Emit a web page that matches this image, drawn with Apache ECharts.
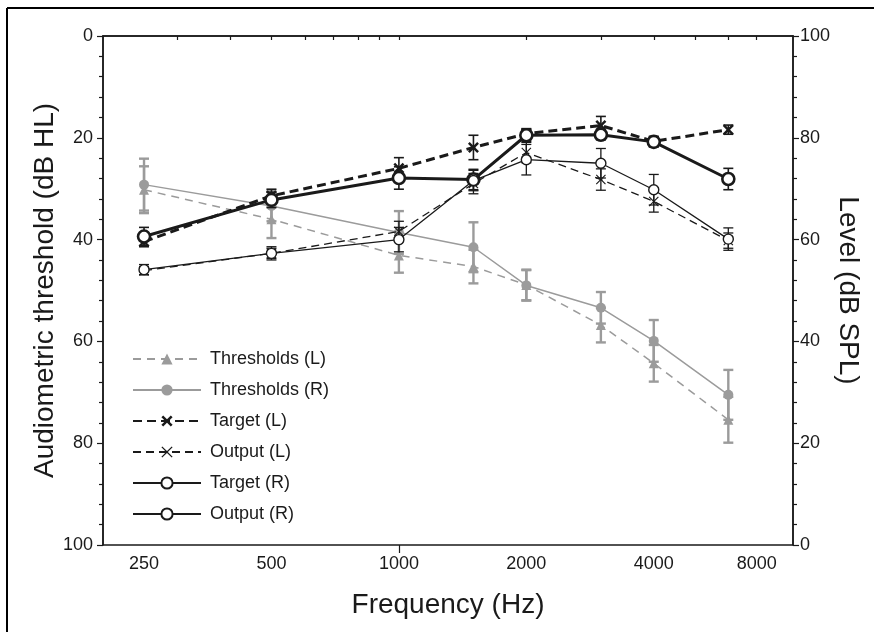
<!DOCTYPE html>
<html><head><meta charset="utf-8">
<script src="https://cdn.jsdelivr.net/npm/echarts@6/dist/echarts.min.js"></script>
<style>html,body{margin:0;padding:0;background:#fff}#c{width:874px;height:632px}</style>
</head><body><div id="c"></div>
<script>
// ---- data ----
const frequencies = [250, 500, 1000, 1500, 2000, 3000, 4000, 6000];
const thresholdsL = [30.2, 36.0, 43.1, 45.3, 48.9, 56.8, 64.3, 75.4];
const thresholdsLErr = [4.6, 3.7, 3.4, 3.3, 3.0, 3.4, 3.6, 4.5];
const thresholdsR = [29.2, 33.4, 38.6, 41.5, 49.0, 53.4, 59.9, 70.5];
const thresholdsRErr = [5.1, 3.0, 4.2, 4.9, 3.0, 3.1, 4.1, 4.9];
const targetL = [59.6, 68.6, 74.0, 78.1, 80.8, 82.4, 79.3, 81.6];
const targetLErr = [1.0, 1.3, 2.1, 2.4, 1.0, 1.8, 1.0, 0.9];
const outputL = [53.9, 57.3, 61.6, 71.0, 77.1, 71.8, 67.5, 59.8];
const outputLErr = [0.8, 1.0, 2.0, 2.0, 2.0, 2.1, 2.1, 1.5];
const targetR = [60.6, 67.8, 72.1, 71.8, 80.5, 80.6, 79.2, 71.9];
const targetRErr = [1.8, 1.5, 2.2, 2.0, 1.2, 1.0, 1.0, 2.1];
const outputR = [54.1, 57.3, 60.0, 71.6, 75.7, 75.0, 69.8, 60.1];
const outputRErr = [1.0, 1.3, 2.4, 2.0, 3.0, 2.9, 3.0, 2.2];
const xTickFreqs = [300, 400, 500, 600, 700, 800, 900, 1000, 2000, 3000, 4000, 5000, 6000, 7000];
const xLongTickFreqs = [1000];
const xLabelFreqs = [250, 500, 1000, 2000, 4000, 7000];
const xLabelTexts = ['250', '500', '1000', '2000', '4000', '8000'];
const xMinFreq = 200, xMaxFreq = 8530;
const seriesNames = ['Thresholds (L)', 'Thresholds (R)', 'Target (L)', 'Output (L)', 'Target (R)', 'Output (R)'];

// ---- helpers ----
const FONT = '"Liberation Sans", Arial, Helvetica, sans-serif';
const INK = '#1a1a1a';
const GRAY = '#9b9b9b';
const lg = f => Math.log2(f);
const pts = v => frequencies.map((f, i) => [lg(f), v[i]]);
const errs = (v, e) => frequencies.map((f, i) => [lg(f), v[i], e[i]]);
const X_THICK = 'path://M0,1.6L1.6,0L5,3.4L8.4,0L10,1.6L6.6,5L10,8.4L8.4,10L5,6.6L1.6,10L0,8.4L3.4,5Z';
const X_THIN = 'path://M0,0.8L0.8,0L5,4.2L9.2,0L10,0.8L5.8,5L10,9.2L9.2,10L5,5.8L0.8,10L0,9.2L4.2,5Z';

function errorBarSeries(data, yAxisIndex, color, width, cap, z) {
  return {
    type: 'custom', yAxisIndex, z, silent: true,
    dimensions: ['x', 'y', 'e'], encode: { x: 0, y: 1 },
    data,
    renderItem(params, api) {
      const x = api.value(0), y = api.value(1), e = api.value(2);
      const a = api.coord([x, y + e]), b = api.coord([x, y - e]);
      const style = { stroke: color, lineWidth: width, fill: null };
      return { type: 'group', children: [
        { type: 'line', shape: { x1: a[0], y1: a[1], x2: b[0], y2: b[1] }, style },
        { type: 'line', shape: { x1: a[0] - cap, y1: a[1], x2: a[0] + cap, y2: a[1] }, style },
        { type: 'line', shape: { x1: b[0] - cap, y1: b[1], x2: b[0] + cap, y2: b[1] }, style }
      ]};
    }
  };
}

const chart = echarts.init(document.getElementById('c'), null, { renderer: 'canvas' });
const axisLineStyle = { color: INK, width: 1.5 };
chart.setOption({
  animation: false,
  backgroundColor: '#fff',
  textStyle: { fontFamily: FONT, color: INK },
  grid: { left: 103, right: 81, top: 36, bottom: 87, show: true, borderColor: INK, borderWidth: 1.5 },
  legend: {
    orient: 'vertical', left: 127, top: 345, itemWidth: 68, itemHeight: 14, itemGap: 13,
    selectedMode: false, data: seriesNames,
    textStyle: { fontSize: 18, fontFamily: FONT, color: INK, padding: [0, 0, 0, 4] }
  },
  xAxis: [{
    type: 'value', min: lg(xMinFreq), max: lg(xMaxFreq),
    name: 'Frequency (Hz)', nameLocation: 'middle', nameGap: 46,
    nameTextStyle: { fontSize: 28, fontFamily: FONT, color: INK },
    axisLine: { lineStyle: axisLineStyle },
    axisTick: { show: true, length: 4, lineStyle: { color: INK, width: 1.2 }, customValues: xTickFreqs.map(lg) },
    axisLabel: {
      fontSize: 18, color: INK, margin: 10, customValues: xLabelFreqs.map(lg),
      formatter: v => { const i = xLabelFreqs.findIndex(f => Math.abs(lg(f) - v) < 1e-6); return i >= 0 ? xLabelTexts[i] : ''; }
    },
    splitLine: { show: false }
  }, {
    type: 'value', min: lg(xMinFreq), max: lg(xMaxFreq), position: 'bottom',
    axisLine: { show: false },
    axisTick: { show: true, length: 8, lineStyle: { color: INK, width: 1.2 }, customValues: xLongTickFreqs.map(lg) },
    axisLabel: { show: false }, splitLine: { show: false }
  }],
  yAxis: [{
    type: 'value', min: 0, max: 100, interval: 20, inverse: true, position: 'left',
    name: 'Audiometric threshold (dB HL)', nameLocation: 'middle', nameGap: 44, nameMoveOverlap: false,
    nameTextStyle: { fontSize: 28, fontFamily: FONT, color: INK },
    axisLine: { show: true, lineStyle: axisLineStyle },
    axisTick: { show: true, length: 6, lineStyle: { color: INK, width: 1.2 } },
    minorTick: { show: true, splitNumber: 5, length: 4, lineStyle: { color: INK, width: 1.2 } },
    axisLabel: { fontSize: 18, color: INK, margin: 10 },
    splitLine: { show: false }
  }, {
    type: 'value', min: 0, max: 100, interval: 20, position: 'right',
    name: 'Level (dB SPL)', nameLocation: 'middle', nameGap: 41, nameRotate: -90, nameMoveOverlap: false,
    nameTextStyle: { fontSize: 28, fontFamily: FONT, color: INK },
    axisLine: { show: true, lineStyle: axisLineStyle },
    axisTick: { show: true, length: 6, lineStyle: { color: INK, width: 1.2 } },
    minorTick: { show: true, splitNumber: 5, length: 4, lineStyle: { color: INK, width: 1.2 } },
    axisLabel: { fontSize: 18, color: INK, margin: 7 },
    splitLine: { show: false }
  }],
  graphic: [
    { type: 'line', shape: { x1: 7, y1: 8, x2: 874, y2: 8 }, style: { stroke: '#000', lineWidth: 2 } },
    { type: 'line', shape: { x1: 7, y1: 8, x2: 7, y2: 632 }, style: { stroke: '#000', lineWidth: 2 } }
  ],
  series: [
    errorBarSeries(errs(thresholdsL, thresholdsLErr), 0, GRAY, 2.4, 5, 1),
    errorBarSeries(errs(thresholdsR, thresholdsRErr), 0, GRAY, 2.4, 5, 1),
    {
      name: 'Thresholds (L)', type: 'line', yAxisIndex: 0, z: 1, data: pts(thresholdsL),
      symbol: 'triangle', symbolSize: 10,
      lineStyle: { color: GRAY, width: 1.5, type: [8, 6] },
      itemStyle: { color: GRAY }
    },
    {
      name: 'Thresholds (R)', type: 'line', yAxisIndex: 0, z: 1, data: pts(thresholdsR),
      symbol: 'circle', symbolSize: 10,
      lineStyle: { color: GRAY, width: 1.5 },
      itemStyle: { color: GRAY }
    },
    errorBarSeries(errs(targetL, targetLErr), 1, INK, 1.6, 5, 2),
    errorBarSeries(errs(outputL, outputLErr), 1, INK, 1.3, 5, 2),
    errorBarSeries(errs(targetR, targetRErr), 1, INK, 1.6, 5, 2),
    errorBarSeries(errs(outputR, outputRErr), 1, INK, 1.3, 5, 2),
    {
      name: 'Target (L)', type: 'line', yAxisIndex: 1, z: 3, data: pts(targetL),
      symbol: X_THICK, symbolSize: 11,
      lineStyle: { color: INK, width: 3, type: [9, 5] },
      itemStyle: { color: INK }
    },
    {
      name: 'Output (L)', type: 'line', yAxisIndex: 1, z: 3, data: pts(outputL),
      symbol: X_THIN, symbolSize: 10,
      lineStyle: { color: INK, width: 1.3, type: [8, 5] },
      itemStyle: { color: INK }
    },
    {
      name: 'Target (R)', type: 'line', yAxisIndex: 1, z: 4, data: pts(targetR),
      symbol: 'circle', symbolSize: 12,
      lineStyle: { color: INK, width: 3 },
      itemStyle: { color: '#fff', borderColor: INK, borderWidth: 2.6 }
    },
    {
      name: 'Output (R)', type: 'line', yAxisIndex: 1, z: 4, data: pts(outputR),
      symbol: 'circle', symbolSize: 10,
      lineStyle: { color: INK, width: 1.3 },
      itemStyle: { color: '#fff', borderColor: INK, borderWidth: 1.4 }
    }
  ]
});
</script>
</body></html>
